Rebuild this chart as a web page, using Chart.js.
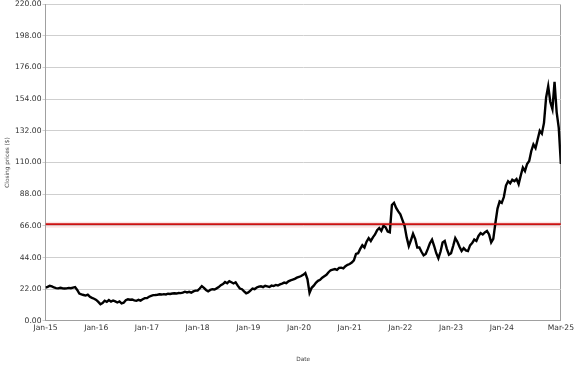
<!DOCTYPE html>
<html>
<head>
<meta charset="utf-8">
<script src="https://cdn.jsdelivr.net/npm/chart.js@4/dist/chart.umd.min.js"></script>
<style>
    html, body { margin: 0; padding: 0; background: #fff; }
    #wrap { width: 577px; height: 367px; }
</style>
</head>
<body>
<div id="wrap"><canvas id="chart"></canvas></div>
<script>
// semi-monthly closing prices (24 per year)
const closes2015 = [23.1, 23.6, 24.4, 24.0, 23.2, 22.8, 22.6, 23.0, 22.7, 22.5, 22.6, 22.9, 22.7, 23.1, 23.5, 21.5, 19.0, 18.4, 18.0, 17.6, 18.2, 16.8, 16.0, 15.4]
const closes2016 = [14.6, 13.2, 11.6, 12.4, 14.0, 13.2, 14.5, 13.4, 14.2, 13.6, 12.8, 13.5, 12.2, 12.6, 14.4, 15.0, 14.7, 14.9, 14.3, 14.0, 14.6, 14.1, 15.0, 15.8]
const closes2017 = [15.8, 16.8, 17.4, 17.9, 18.0, 18.2, 18.5, 18.3, 18.6, 18.4, 18.9, 18.7, 19.0, 19.2, 19.0, 19.4, 19.3, 19.6, 20.3, 19.8, 20.2, 19.6, 20.5, 21.0]
const closes2018 = [21.0, 22.5, 24.2, 23.0, 21.5, 20.5, 21.5, 22.0, 21.8, 22.6, 23.5, 24.8, 25.6, 27.0, 26.2, 27.6, 26.8, 26.0, 26.8, 24.5, 22.5, 22.0, 20.5, 19.2]
const closes2019 = [19.8, 21.0, 22.5, 22.0, 23.2, 23.8, 24.0, 23.5, 24.4, 24.0, 23.6, 24.5, 24.2, 25.0, 24.6, 25.4, 25.9, 26.6, 26.2, 27.5, 28.2, 28.6, 29.2, 30.0]
const closes2020 = [30.5, 31.2, 32.0, 33.2, 29.0, 19.5, 23.0, 24.5, 26.5, 27.8, 28.5, 30.0, 31.0, 32.0, 33.8, 35.2, 35.6, 36.0, 35.4, 36.8, 37.0, 36.5, 38.0, 39.0]
const closes2021 = [39.5, 40.5, 42.0, 46.5, 47.0, 50.0, 52.5, 51.0, 55.0, 57.5, 55.5, 58.0, 60.0, 63.0, 64.5, 62.5, 66.0, 65.0, 62.0, 61.5, 80.5, 82.0, 78.5, 76.0]
const closes2022 = [74.0, 70.0, 66.0, 58.0, 52.0, 56.0, 60.5, 57.0, 51.0, 51.0, 48.0, 45.5, 46.5, 50.0, 54.0, 56.5, 52.0, 47.0, 43.5, 48.0, 54.5, 55.5, 50.0, 46.0]
const closes2023 = [47.0, 52.0, 57.5, 55.0, 51.5, 48.5, 50.5, 49.0, 48.5, 52.5, 54.0, 56.5, 55.5, 59.0, 61.0, 60.0, 61.5, 62.5, 60.0, 54.5, 57.0, 68.0, 78.0, 83.0]
const closes2024 = [82.0, 86.0, 94.0, 97.0, 95.5, 98.0, 97.0, 98.5, 95.0, 101.0, 106.5, 104.0, 109.0, 111.0, 118.0, 122.5, 120.0, 126.0, 132.0, 130.0, 137.5, 155.0, 163.0, 152.0]
const closes2025 = [147.0, 166.0, 145.0, 134.0, 109.0]

const years = [2015, 2016, 2017, 2018, 2019, 2020, 2021, 2022, 2023, 2024, 2025]
const closesByYear = [closes2015, closes2016, closes2017, closes2018, closes2019, closes2020, closes2021, closes2022, closes2023, closes2024, closes2025]

const xTickLabels = ['Jan-15', 'Jan-16', 'Jan-17', 'Jan-18', 'Jan-19', 'Jan-20', 'Jan-21', 'Jan-22', 'Jan-23', 'Jan-24', 'Mar-25']
const refLevel = 67.2
const bandLow = 64.6
const bandHigh = 68.8

const points = []
years.forEach((yr, i) => {
    closesByYear[i].forEach((v, k) => points.push({ x: yr + k / 24, y: v }))
})
const xMin = points[0].x
const xMax = points[points.length - 1].x
const tickValues = years.slice(0, 10).concat([xMax])
const lastTick = tickValues.length - 1

const font = { family: 'DejaVu Sans', size: 7.6 }
const titleFont = { family: 'DejaVu Sans', size: 5.8 }

new Chart(document.getElementById('chart'), {
    type: 'line',
    data: {
        datasets: [
            {
                data: points,
                borderColor: '#000',
                borderWidth: 2.4,
                pointRadius: 0,
                tension: 0,
                order: 2
            },
            {
                data: [{ x: xMin, y: refLevel }, { x: xMax, y: refLevel }],
                borderColor: '#cc1111',
                borderWidth: 1.8,
                pointRadius: 0,
                order: 1
            },
            {
                data: [{ x: xMin, y: bandHigh }, { x: xMax, y: bandHigh }],
                borderWidth: 0,
                pointRadius: 0,
                backgroundColor: 'rgba(240, 80, 80, 0.16)',
                fill: '+1',
                order: 3
            },
            {
                data: [{ x: xMin, y: bandLow }, { x: xMax, y: bandLow }],
                borderWidth: 0,
                pointRadius: 0,
                order: 4
            }
        ]
    },
    options: {
        animation: false,
        responsive: true,
        maintainAspectRatio: false,
        layout: { padding: { left: 0, right: 0, top: 0, bottom: 0 } },
        plugins: { legend: { display: false }, tooltip: { enabled: false } },
        scales: {
            x: {
                type: 'linear',
                min: xMin,
                max: xMax,
                afterBuildTicks: axis => { axis.ticks = tickValues.map(v => ({ value: v })) },
                ticks: {
                    autoSkip: false,
                    maxRotation: 0,
                    padding: 3,
                    color: '#333',
                    font: font,
                    callback: (v, i) => xTickLabels[i]
                },
                // only the last vertical line is shown, it closes the frame on the right
                grid: {
                    drawTicks: false,
                    color: ctx => ctx.index === lastTick ? '#a0a0a0' : 'rgba(0,0,0,0)'
                },
                border: { display: true, color: '#a0a0a0', width: 1 },
                title: {
                    display: true,
                    text: 'Date',
                    color: '#444',
                    font: titleFont,
                    padding: { top: 20, bottom: 4 }
                }
            },
            y: {
                min: 0,
                max: 220,
                ticks: {
                    stepSize: 22,
                    padding: 1,
                    color: '#333',
                    font: { family: 'DejaVu Sans', size: 7.6, lineHeight: 0.8 },
                    callback: v => v.toFixed(2)
                },
                grid: { color: '#cfcfcf', lineWidth: 1, tickLength: 3 },
                border: { display: true, color: '#a0a0a0', width: 1 },
                title: {
                    display: true,
                    text: 'Closing prices ($)',
                    color: '#444',
                    font: titleFont,
                    padding: { top: 4, bottom: 3 }
                }
            }
        }
    }
})
</script>
</body>
</html>
